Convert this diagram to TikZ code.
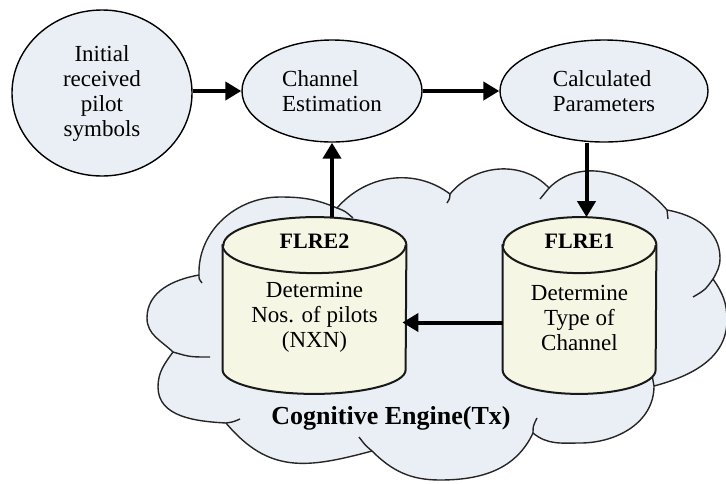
\documentclass[tikz,border=0pt]{standalone}
\usepackage{fontspec}
\setmainfont{Liberation Serif}
\usetikzlibrary{positioning,arrows.meta,shapes.geometric}
\definecolor{bubblefill}{RGB}{234,239,245}
\definecolor{drumfill}{RGB}{245,246,227}
\tikzset{
  flowarrow/.style={-{Triangle[length=8pt,width=9pt]}, line width=2pt},
  bubble/.style={draw, ellipse, line width=0.7pt, fill=bubblefill, inner sep=1pt, font=\fontsize{11.5}{12.5}\selectfont},
  drum/.style={rectangle, inner sep=0pt, minimum height=88pt},
  drumline/.style={line width=1pt, draw=black!90},
  drumtext/.style={align=center, font=\fontsize{11.5}{12.5}\selectfont},
  drumtitle/.style={font=\fontsize{11}{12}\selectfont\bfseries},
  cloudline/.style={line width=0.7pt, draw=black!85}
}
% outline of a standing drum round a drum node: #1 node, #2 x radius
\newcommand{\drawdrum}[2]{%
  \path[drumline, fill=drumfill] ([yshift=-14pt]#1.north west) -- ([yshift=12pt]#1.south west)
    arc[start angle=180, end angle=360, x radius=#2, y radius=12pt]
    -- ([yshift=-14pt]#1.north east)
    arc[start angle=0, end angle=180, x radius=#2, y radius=14pt] -- cycle;
  \draw[drumline] ([yshift=-14pt]#1.north west) arc[start angle=180, end angle=360, x radius=#2, y radius=14pt];
}
\begin{document}
\begin{tikzpicture}[x=0.5pt, y=0.5pt]
  \useasboundingbox (0,0) rectangle (726,-483);
  % the cloud (cognitive engine)
  \path[cloudline, fill=bubblefill] (199,-275)
    to[out=92,in=180] (280,-197) to[out=0,in=157] (337,-208)
    to[out=49,in=143] (450,-194)
    to[out=51,in=133] (549,-188)
    to[out=45,in=130] (667,-210)
    to[out=-10,in=90] (720,-258) to[out=-90,in=60] (713,-279)
    to[out=-55,in=90] (727,-320) to[out=-90,in=15] (654,-386)
    to[out=-90,in=0] (580,-443) to[out=180,in=-40] (533,-433)
    to[out=-115,in=0] (440,-480) to[out=180,in=-45] (372,-451)
    to[out=-165,in=-50,looseness=1.15] (226,-423)
    to[out=177,in=-90] (158,-387) to[out=90,in=-126] (173,-352)
    to[out=136,in=-90] (147,-318) to[out=90,in=190] (199,-275) -- cycle;
  % little inner ends of the lobes
  \draw[cloudline] (199,-275) .. controls (199,-279) .. (202,-283);
  \draw[cloudline] (337,-208) .. controls (345,-211) .. (353,-218);
  \draw[cloudline] (450,-194) .. controls (450,-198) .. (447,-203);
  \draw[cloudline] (540,-199) .. controls (544,-193) .. (549,-188);
  \draw[cloudline] (667,-210) .. controls (668,-214) .. (668,-219);
  \draw[cloudline] (713,-279) .. controls (705,-290) .. (693,-297);
  \draw[cloudline] (652,-375) .. controls (653,-380) .. (654,-386);
  \draw[cloudline] (533,-433) .. controls (533,-426) .. (537,-418);
  \draw[cloudline] (372,-451) .. controls (365,-445) .. (359,-437);
  \draw[cloudline] (226,-423) .. controls (233,-422) .. (240,-419);
  \draw[cloudline] (173,-352) .. controls (190,-357) .. (210,-357);
  \node[font=\fontsize{13}{15}\selectfont\bfseries] (cogeng) at (391,-418) {Cognitive Engine(Tx)};

  % top row
  \node[bubble, minimum width=90pt, minimum height=83pt, align=center] (init) at (102,-93) {Initial\\received\\pilot\\symbols};
  \node[bubble, minimum width=90pt, minimum height=51pt, align=left] (chanest) at (332,-91) {Channel\\Estimation};
  \node[bubble, minimum width=104pt, minimum height=51pt, align=left] (calc) at (604,-91) {Calculated\\Parameters};

  % the two rule engines
  \node[drum, minimum width=91.5pt] (flre2) at (314.5,-305.5) {};
  \node[drum, minimum width=76.5pt] (flre1) at (579.5,-305.5) {};
  \drawdrum{flre2}{45.75pt}
  \drawdrum{flre1}{38.25pt}
  \node[drumtitle] (flre2title) at ([yshift=-12pt]flre2.north) {FLRE2};
  \node[drumtitle] (flre1title) at ([yshift=-12pt]flre1.north) {FLRE1};
  \node[drumtext] (flre2text) at ([yshift=-6pt]flre2.center) {Determine\\Nos. of pilots\\(NXN)};
  \node[drumtext] (flre1text) at ([yshift=-6pt]flre1.center) {Determine\\Type of\\Channel};

  \coordinate (dropin) at ([xshift=3.5pt]flre1.north);
  \coordinate (sideout) at ([yshift=-8.5pt]flre1.west);
  \draw[flowarrow] (init.east |- chanest.west) -- (chanest.west);
  \draw[flowarrow] (chanest) -- (calc);
  \draw[flowarrow] (dropin |- calc.south) -- (dropin);
  \draw[flowarrow] (chanest.south |- flre2.north) -- (chanest.south);
  \draw[flowarrow, shorten >=-2pt] (sideout) -- (sideout -| flre2.east);
\end{tikzpicture}
\end{document}
